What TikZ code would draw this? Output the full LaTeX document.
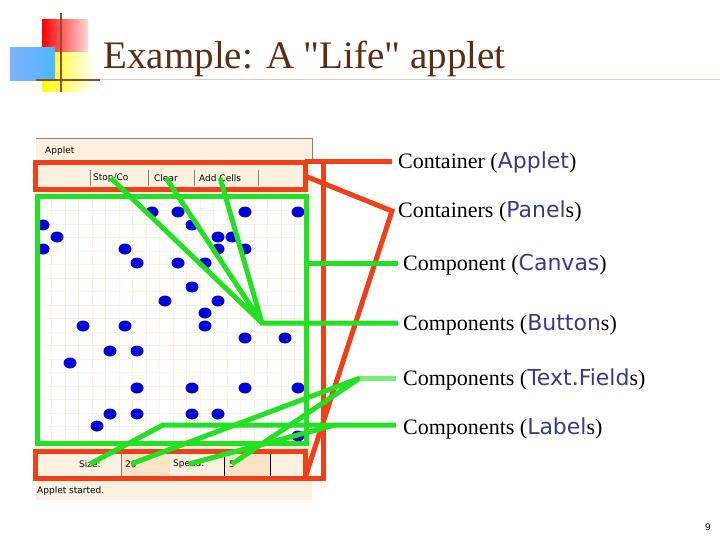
\documentclass[tikz,border=0pt]{standalone}
\usepackage{fontspec}
\setmainfont{Liberation Serif}
\setsansfont{DejaVu Sans}
\definecolor{winbg}{HTML}{FCF1E0}
\definecolor{fieldbg}{HTML}{FBE3C6}
\definecolor{ored}{HTML}{F04018}
\definecolor{lgreen}{HTML}{22E022}
\definecolor{brn}{HTML}{9A4A20}
\definecolor{codec}{HTML}{3A3A8A}
\newcommand{\cd}[1]{{\sffamily\color{codec}#1}}
\begin{document}
\begin{tikzpicture}[x=1pt,y=-1pt,
   redline/.style={draw=ored,line width=5pt},
   grnline/.style={draw=lgreen,line width=5pt},
   lbl/.style={anchor=west,font=\fontsize{22}{26}\selectfont,inner sep=0pt},
   btn/.style={anchor=west,font=\sffamily\fontsize{9}{10}\selectfont,inner sep=1pt},
   cell/.style={fill=blue!85!black,draw=none}]
   \useasboundingbox (0,0) rectangle (720,540);
   % logo
   \shade[left color=red,right color=red!15] (42,20) rectangle (88,53);
   \shade[left color=yellow,right color=white] (42,53) rectangle (95,92);
   \shade[left color=cyan!40!blue!50,right color=cyan!60!blue!70] (10,48) rectangle (55,81);
   \draw[brn,line width=2.5pt] (61,13) -- (61,92);
   \draw[brn,line width=2.5pt] (36,80) -- (100,80);
   \draw[brn!30,line width=1pt] (100,80) -- (720,80);
   \node[anchor=west,font=\fontsize{39}{44}\selectfont,text=brn!60!black] (title) at (100,59) {Example: A \textquotedbl Life\textquotedbl{} applet};
   % applet window
   \fill[winbg] (36,138) rectangle (312,500);
   \draw[gray] (36,138) -- (312,138) -- (312,160);
   \node[btn] (apptitle) at (44,151) {Applet};
   \fill[white] (38,197) rectangle (305,443);
   \foreach \g in {0,...,19} {
     \draw[orange!12] (38+13.5*\g,197) -- (38+13.5*\g,443);
     \draw[orange!12] (38,197+13.5*\g) -- (305,197+13.5*\g);
   }
   \foreach \x in {90,148,194,258} \draw[gray] (\x,170) -- (\x,186);
   \node[btn] (bstop) at (92,178) {Stop/Co};
   \node[btn] (bclear) at (153,178) {Clear};
   \node[btn] (badd) at (198,178) {Add Cells};
   \fill[fieldbg] (121,452) rectangle (170,476);
   \fill[fieldbg] (224,452) rectangle (270,476);
   \draw (224,452) rectangle (270,476);
   \draw[gray] (121,452) -- (121,476);
   \node[btn] (lsize) at (78,464) {Size:};
   \node[btn] (tsize) at (124,464) {20};
   \node[btn] (lspeed) at (172,464) {Speed:};
   \node[btn] (tspeed) at (228,464) {5};
   \node[btn] (status) at (36,491) {Applet started.};
   \foreach \x/\y in {152/212,178/212,245/212,298/212,192/225,43/225,57/237,218/237,232/237,
      43/249,125/249,218/249,245/249,137/263,178/263,205/263,192/287,165/301,218/301,205/313,
      83/326,125/326,205/326,245/338,285/338,110/351,137/351,70/363,137/388,192/388,245/388,
      298/388,110/414,137/414,192/414,218/414,97/426,298/436}
     \fill[cell] (\x,\y) ellipse (6.5 and 5.5);
   % labels
   \node[lbl] (lapplet) at (398,162) {Container (\cd{Applet})};
   \node[lbl] (lpanels) at (398,211) {Containers (\cd{Panel}s)};
   \node[lbl] (lcanvas) at (403,265) {Component (\cd{Canvas})};
   \node[lbl] (lbuttons) at (403,325) {Components (\cd{Button}s)};
   \node[lbl] (lfields) at (403,379) {Components (\cd{Text.Field}s)};
   \node[lbl] (llabels) at (403,428) {Components (\cd{Label}s)};
   % containers
   \draw[redline] (35,163) rectangle (305,190);
   \draw[redline] (35,451) rectangle (305,478);
   \draw[redline] (305,478) -- (323,478) -- (323,162) -- (305,162);
   \draw[redline] (323,162) -- (lapplet.west -| 392,162);
   \draw[redline] (305,176) -- (392,211) -- (305,478);
   % components
   \draw[grnline] (37,197) rectangle (306,443);
   \draw[grnline] (306,263) -- (398,263);
   \coordinate (jbtn) at (262,323);
   \draw[grnline] (bstop.center) -- (jbtn) (bclear.center) -- (jbtn) (badd.center) -- (jbtn) -- (398,323);
   \coordinate (jfld) at (360,378);
   \draw[grnline] (tsize.center) -- (jfld) (tspeed.center) -- (jfld);
   \draw[draw=lgreen!60,line width=5pt] (jfld) -- (396,378);
   \coordinate (jlbl) at (163,425);
   \draw[grnline] (lsize.center) -- (jlbl) -- (396,425);
   \draw[grnline] (lspeed.center) -- (335,425);
   \node[font=\sffamily\fontsize{9}{10}\selectfont] (pagenum) at (708,527) {9};
\end{tikzpicture}
\end{document}
